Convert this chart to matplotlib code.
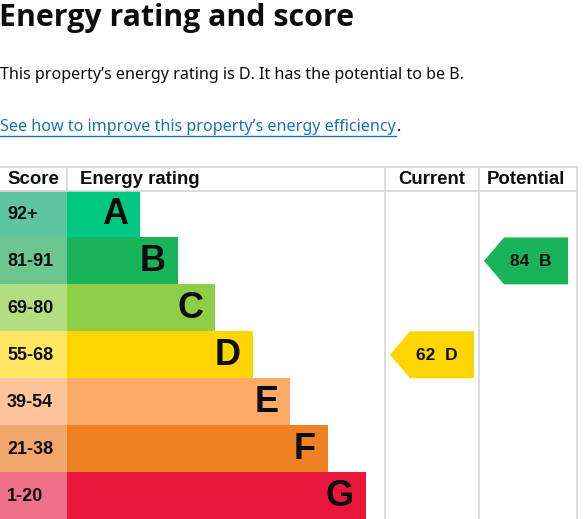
"""EPC energy rating chart: bands, current and potential scores."""

import matplotlib
matplotlib.use("Agg")
import matplotlib.pyplot as plt
from matplotlib.patches import Polygon

# ── Data ────────────────────────────────────────────────────────────────
ratings = ["A", "B", "C", "D", "E", "F", "G"]
score_bands = ["92+", "81-91", "69-80", "55-68", "39-54", "21-38", "1-20"]
band_low = [92, 81, 69, 55, 39, 21, 1]
band_colors = ["#00c781", "#19b459", "#8dce46", "#ffd500",
               "#fcaa65", "#ef8023", "#e9153b"]
score_colors = ["#5fc4a1", "#6cc58c", "#b3de80", "#ffe663",
                "#fdc39a", "#f3a66b", "#f0728a"]
current_score = 62
potential_score = 84

title = "Energy rating and score"
summary = "This property\u2019s energy rating is D. It has the potential to be B."
link_text = "See how to improve this property\u2019s energy efficiency"

# ── Layout (pixel space) ────────────────────────────────────────────────
W, H = 584, 519
TABLE_TOP, HEAD_BOT = 167, 190.5
ROW_H = (H - HEAD_BOT) / len(ratings)
SCORE_X = 67
BAR_BASE, BAR_STEP = 73, 37.6
CUR_X, POT_X, RIGHT_X = 384.5, 478.5, 577
GRID = "#d6d6d6"


def band_index(score):
    for i, lo in enumerate(band_low):
        if score >= lo:
            return i
    return len(band_low) - 1


def arrow(ax, x0, x1, row, color, label):
    y0 = HEAD_BOT + row * ROW_H
    y1 = y0 + ROW_H
    ym = (y0 + y1) / 2
    pts = [(x0, ym), (x0 + 20, y0), (x1, y0), (x1, y1), (x0 + 20, y1)]
    ax.add_patch(Polygon(pts, closed=True, facecolor=color, edgecolor="none"))
    ax.text(x0 + 26, ym + 1, label, ha="left", va="center", fontsize=12.5,
            fontweight="bold", family="Liberation Sans", color="#0b0c0c")


fig = plt.figure(figsize=(W / 100, H / 100), dpi=100)
ax = fig.add_axes([0, 0, 1, 1])
ax.set_xlim(0, W)
ax.set_ylim(H, 0)
ax.axis("off")

# ── Heading, text and link ──────────────────────────────────────────────
ax.text(-1, 18, title, ha="left", va="center", fontsize=21.9,
        fontweight="bold", family="Open Sans", color="#0b0c0c")
ax.text(0, 75, summary, ha="left", va="center", fontsize=11.6,
        family="Noto Sans", color="#0b0c0c")
link = ax.text(0, 127, link_text, ha="left", va="center", fontsize=11.6,
               family="Noto Sans", color="#1d70b8")
fig.canvas.draw()
bb = link.get_window_extent().transformed(ax.transData.inverted())
link_end = max(bb.x0, bb.x1)
ax.plot([0, link_end], [136, 136], color="#1d70b8", lw=1)
ax.text(link_end + 1, 127, ".", ha="left", va="center", fontsize=11.6,
        family="Noto Sans", color="#0b0c0c")

# ── Table grid ──────────────────────────────────────────────────────────
ax.plot([0, RIGHT_X], [TABLE_TOP, TABLE_TOP], color=GRID, lw=1.2)
ax.plot([0, RIGHT_X], [HEAD_BOT, HEAD_BOT], color=GRID, lw=1.2)
ax.plot([SCORE_X, SCORE_X], [TABLE_TOP, HEAD_BOT], color=GRID, lw=1.2)
for x in (CUR_X, POT_X, RIGHT_X):
    ax.plot([x, x], [TABLE_TOP, H], color=GRID, lw=1.2)

head_y = (TABLE_TOP + HEAD_BOT) / 2 + 1
head_kw = dict(va="center", fontsize=13.4, fontweight="bold",
               family="Liberation Sans", color="#0b0c0c")
ax.text(7, head_y, "Score", ha="left", **head_kw)
ax.text(80, head_y, "Energy rating", ha="left", **head_kw)
ax.text((CUR_X + POT_X) / 2, head_y, "Current", ha="center", **head_kw)
ax.text((POT_X + RIGHT_X) / 2 - 2, head_y, "Potential", ha="center", **head_kw)

# ── Bands ───────────────────────────────────────────────────────────────
rows = list(range(len(ratings)))
ys = [HEAD_BOT + (i + 0.5) * ROW_H for i in rows]
widths = [BAR_BASE + BAR_STEP * i for i in rows]
ax.barh(ys, [SCORE_X] * len(rows), height=ROW_H, left=0,
        color=score_colors, edgecolor="none")
ax.barh(ys, widths, height=ROW_H, left=SCORE_X,
        color=band_colors, edgecolor="none")
for y, w, r, s in zip(ys, widths, ratings, score_bands):
    ax.text(7, y + 1, s, ha="left", va="center", fontsize=13,
            fontweight="bold", family="Liberation Sans", color="#0b0c0c")
    ax.text(SCORE_X + w - 12, y + 1, r, ha="right", va="center",
            fontsize=26, fontweight="bold", family="Liberation Sans",
            color="#0b0c0c")

# ── Current / potential markers ─────────────────────────────────────────
ci = band_index(current_score)
pi = band_index(potential_score)
arrow(ax, CUR_X + 5.5, CUR_X + 89.5, ci, band_colors[ci],
      f"{current_score}  {ratings[ci]}")
arrow(ax, POT_X + 5.5, POT_X + 89.5, pi, band_colors[pi],
      f"{potential_score}  {ratings[pi]}")

fig.savefig("out.png", dpi=100)
